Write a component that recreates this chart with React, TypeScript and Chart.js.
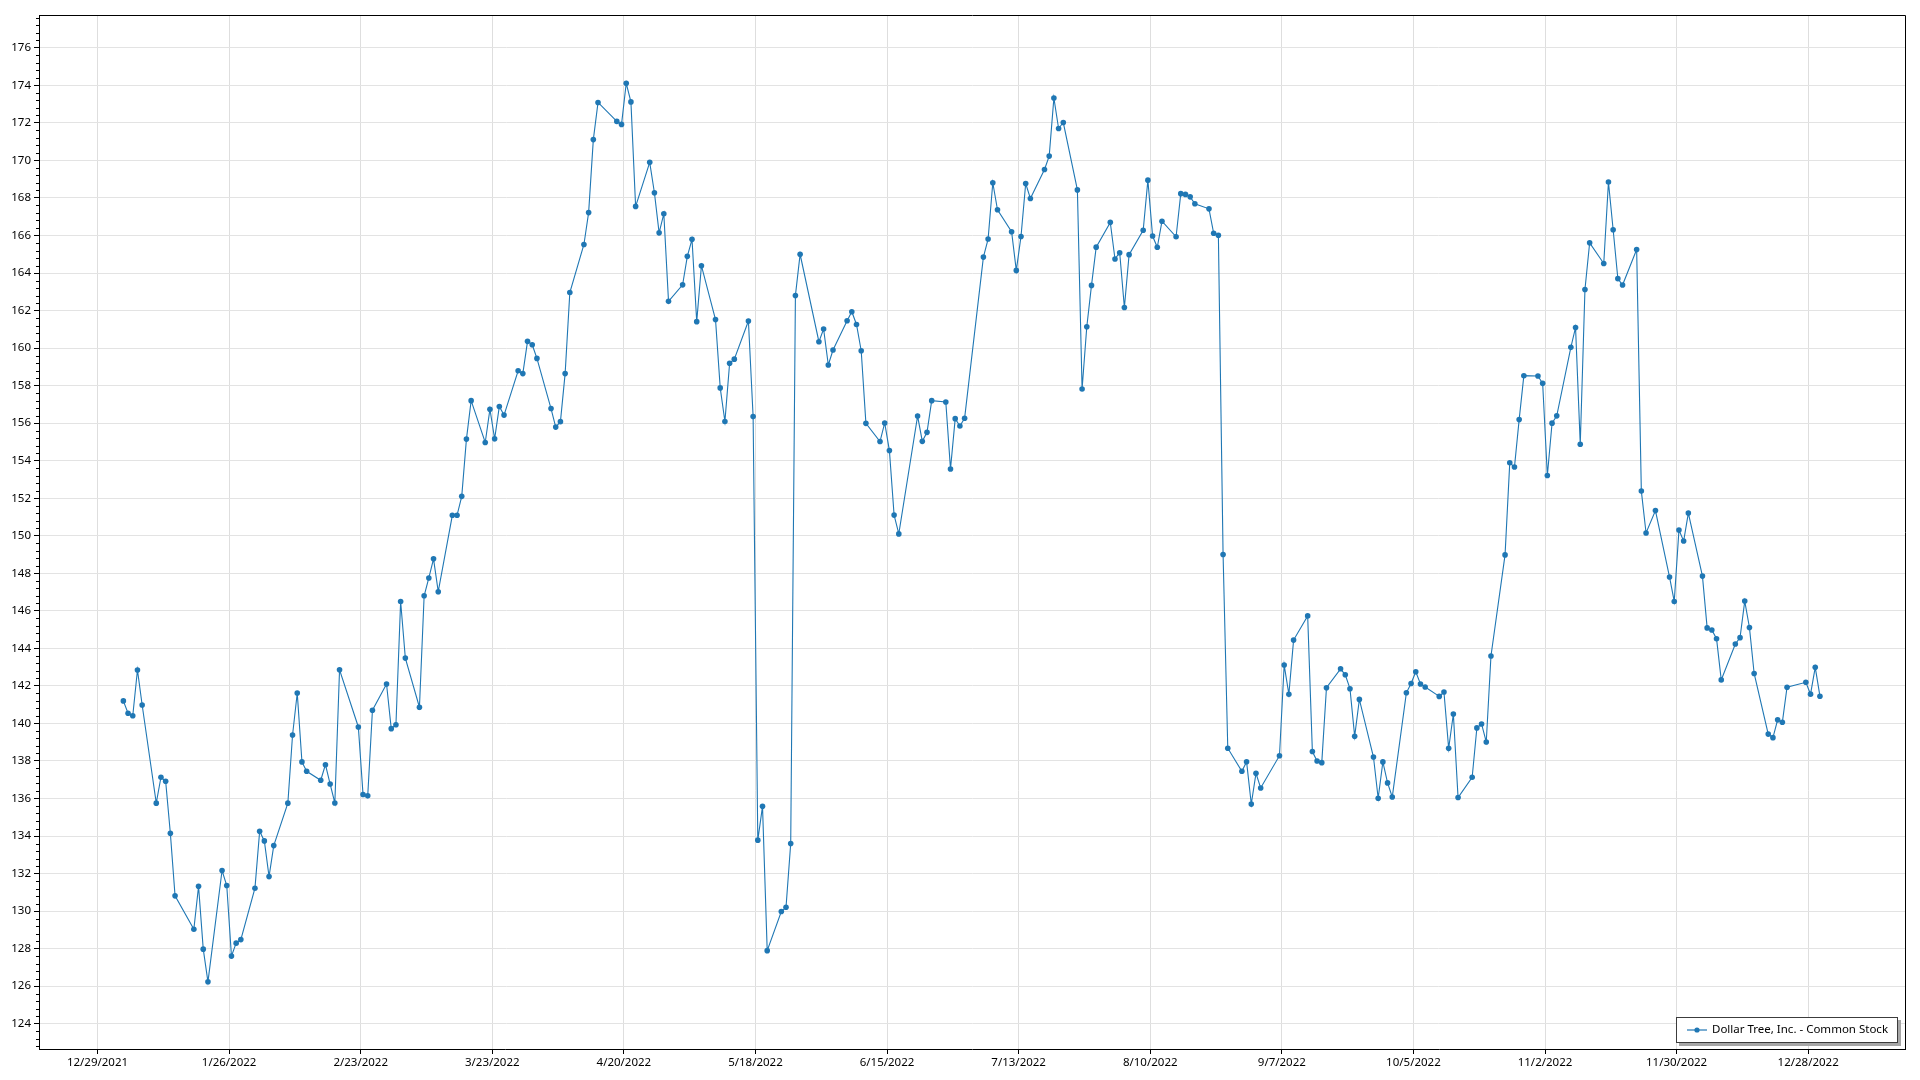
import React, { useEffect, useRef } from "react";
import { Chart, registerables } from "chart.js";

Chart.register(...registerables);

const SERIES_LABEL = "Dollar Tree, Inc. - Common Stock";

const TRADE_DATES = [
  "2022-01-03","2022-01-04","2022-01-05","2022-01-06","2022-01-07","2022-01-10","2022-01-11","2022-01-12","2022-01-13","2022-01-14",
  "2022-01-18","2022-01-19","2022-01-20","2022-01-21","2022-01-24","2022-01-25","2022-01-26","2022-01-27","2022-01-28","2022-01-31",
  "2022-02-01","2022-02-02","2022-02-03","2022-02-04","2022-02-07","2022-02-08","2022-02-09","2022-02-10","2022-02-11","2022-02-14",
  "2022-02-15","2022-02-16","2022-02-17","2022-02-18","2022-02-22","2022-02-23","2022-02-24","2022-02-25","2022-02-28",
  "2022-03-01","2022-03-02","2022-03-03","2022-03-04","2022-03-07","2022-03-08","2022-03-09","2022-03-10","2022-03-11","2022-03-14",
  "2022-03-15","2022-03-16","2022-03-17","2022-03-18","2022-03-21","2022-03-22","2022-03-23","2022-03-24","2022-03-25","2022-03-28",
  "2022-03-29","2022-03-30","2022-03-31",
  "2022-04-01","2022-04-04","2022-04-05","2022-04-06","2022-04-07","2022-04-08","2022-04-11","2022-04-12","2022-04-13","2022-04-14",
  "2022-04-18","2022-04-19","2022-04-20","2022-04-21","2022-04-22","2022-04-25","2022-04-26","2022-04-27","2022-04-28","2022-04-29",
  "2022-05-02","2022-05-03","2022-05-04","2022-05-05","2022-05-06","2022-05-09","2022-05-10","2022-05-11","2022-05-12","2022-05-13",
  "2022-05-16","2022-05-17","2022-05-18","2022-05-19","2022-05-20","2022-05-23","2022-05-24","2022-05-25","2022-05-26","2022-05-27",
  "2022-05-31",
  "2022-06-01","2022-06-02","2022-06-03","2022-06-06","2022-06-07","2022-06-08","2022-06-09","2022-06-10","2022-06-13","2022-06-14",
  "2022-06-15","2022-06-16","2022-06-17","2022-06-21","2022-06-22","2022-06-23","2022-06-24","2022-06-27","2022-06-28","2022-06-29",
  "2022-06-30",
  "2022-07-01","2022-07-05","2022-07-06","2022-07-07","2022-07-08","2022-07-11","2022-07-12","2022-07-13","2022-07-14","2022-07-15",
  "2022-07-18","2022-07-19","2022-07-20","2022-07-21","2022-07-22","2022-07-25","2022-07-26","2022-07-27","2022-07-28","2022-07-29",
  "2022-08-01","2022-08-02","2022-08-03","2022-08-04","2022-08-05","2022-08-08","2022-08-09","2022-08-10","2022-08-11","2022-08-12",
  "2022-08-15","2022-08-16","2022-08-17","2022-08-18","2022-08-19","2022-08-22","2022-08-23","2022-08-24","2022-08-25","2022-08-26",
  "2022-08-29","2022-08-30","2022-08-31",
  "2022-09-01","2022-09-02","2022-09-06","2022-09-07","2022-09-08","2022-09-09","2022-09-12","2022-09-13","2022-09-14","2022-09-15",
  "2022-09-16","2022-09-19","2022-09-20","2022-09-21","2022-09-22","2022-09-23","2022-09-26","2022-09-27","2022-09-28","2022-09-29",
  "2022-09-30",
  "2022-10-03","2022-10-04","2022-10-05","2022-10-06","2022-10-07","2022-10-10","2022-10-11","2022-10-12","2022-10-13","2022-10-14",
  "2022-10-17","2022-10-18","2022-10-19","2022-10-20","2022-10-21","2022-10-24","2022-10-25","2022-10-26","2022-10-27","2022-10-28",
  "2022-10-31",
  "2022-11-01","2022-11-02","2022-11-03","2022-11-04","2022-11-07","2022-11-08","2022-11-09","2022-11-10","2022-11-11","2022-11-14",
  "2022-11-15","2022-11-16","2022-11-17","2022-11-18","2022-11-21","2022-11-22","2022-11-23","2022-11-25","2022-11-28","2022-11-29",
  "2022-11-30",
  "2022-12-01","2022-12-02","2022-12-05","2022-12-06","2022-12-07","2022-12-08","2022-12-09","2022-12-12","2022-12-13","2022-12-14",
  "2022-12-15","2022-12-16","2022-12-19","2022-12-20","2022-12-21","2022-12-22","2022-12-23","2022-12-27","2022-12-28","2022-12-29",
  "2022-12-30",
];

const CLOSE_PRICES = [
  141.20,140.54,140.41,142.85,140.98,135.75,137.13,136.92,134.15,130.81,
  129.03,131.32,127.97,126.23,132.16,131.36,127.60,128.29,128.48,131.22,
  134.25,133.74,131.84,133.49,135.75,139.38,141.62,137.95,137.45,136.97,
  137.80,136.77,135.76,142.86,139.81,136.21,136.14,140.70,142.10,
  139.72,139.93,146.50,143.48,140.86,146.80,147.75,148.77,147.02,151.09,
  151.09,152.10,155.15,157.20,154.97,156.74,155.17,156.89,156.43,158.79,
  158.64,160.36,160.18,
  159.45,156.78,155.79,156.08,158.64,162.96,165.52,167.22,171.11,173.09,
  172.08,171.92,174.11,173.12,167.55,169.90,168.28,166.14,167.16,162.49,
  163.37,164.89,165.80,161.41,164.39,161.52,157.88,156.09,159.19,159.41,
  161.44,156.35,133.78,135.58,127.89,129.98,130.20,133.60,162.80,165.00,
  160.34,
  161.02,159.10,159.90,161.46,161.94,161.26,159.86,155.99,155.02,156.01,
  154.54,151.10,150.10,156.38,155.03,155.51,157.20,157.13,153.56,156.24,
  155.85,
  156.26,164.85,165.81,168.81,167.37,166.20,164.14,165.95,168.77,167.97,
  169.52,170.23,173.33,171.70,172.02,168.43,157.82,161.14,163.34,165.38,
  166.70,164.75,165.08,162.16,164.98,166.28,168.95,165.97,165.37,166.76,
  165.93,168.23,168.19,168.06,167.69,167.42,166.12,166.01,149.00,138.68,
  137.45,137.96,135.70,
  137.34,136.56,138.28,143.11,141.55,144.44,145.73,138.50,138.00,137.91,
  141.90,142.91,142.59,141.85,139.31,141.28,138.21,136.01,137.95,136.83,
  136.08,
  141.63,142.13,142.75,142.10,141.94,141.44,141.67,138.67,140.50,136.05,
  137.13,139.76,139.97,139.01,143.59,148.98,153.89,153.66,156.19,158.53,
  158.51,
  158.12,153.21,156.00,156.39,160.04,161.10,154.88,163.12,165.61,164.51,
  168.85,166.31,163.70,163.36,165.25,152.38,150.15,151.34,147.80,146.50,
  150.30,
  149.72,151.21,147.85,145.09,144.98,144.51,142.32,144.23,144.57,146.52,
  145.11,142.66,139.43,139.24,140.19,140.06,141.93,142.19,141.56,142.99,
  141.45,
];

const X_TICK_DATES = [
  "2021-12-29","2022-01-26","2022-02-23","2022-03-23","2022-04-20","2022-05-18","2022-06-15",
  "2022-07-13","2022-08-10","2022-09-07","2022-10-05","2022-11-02","2022-11-30","2022-12-28",
];

const Y_TICKS = [
  124,126,128,130,132,134,136,138,140,142,144,146,148,150,152,154,156,158,160,162,164,166,168,170,172,174,176,
];

const BASE_DATE = "2021-12-29";
const X_MIN_DAY = -12.45;
const X_MAX_DAY = 384.6;
const Y_MIN = 122.65;
const Y_MAX = 177.75;
const Y_MINOR_STEP = 0.4;
const CLOSE_TIME_OF_DAY = 0.5;

const FONT_FAMILY = "'Segoe UI', 'Noto Sans', 'Liberation Sans', sans-serif";
const LINE_COLOR = "#1f77b4";

const DAY_MS = 86400000;
const baseMs = Date.parse(BASE_DATE + "T00:00:00Z");
const dayOf = (iso: string) => (Date.parse(iso + "T00:00:00Z") - baseMs) / DAY_MS;
const fmtDay = (v: number) => {
  const d = new Date(baseMs + Math.round(v) * DAY_MS);
  return `${d.getUTCMonth() + 1}/${d.getUTCDate()}/${d.getUTCFullYear()}`;
};

const framePlugin = {
  id: "framePlugin",
  afterDraw(chart: any) {
    const { ctx, chartArea } = chart;
    const { left, right, top, bottom } = chartArea;
    const yScale = chart.scales.y;
    ctx.save();
    ctx.strokeStyle = "#000";
    ctx.lineWidth = 1;
    ctx.beginPath();
    ctx.moveTo(left + 0.5, bottom + 0.5);
    ctx.lineTo(left + 0.5, Math.round(top) + 0.5);
    ctx.lineTo(Math.round(right) + 0.5, Math.round(top) + 0.5);
    ctx.lineTo(Math.round(right) + 0.5, bottom + 0.5);
    ctx.stroke();
    const startK = Math.ceil((Y_MIN - 124) / Y_MINOR_STEP);
    const endK = Math.floor((Y_MAX - 124) / Y_MINOR_STEP);
    ctx.beginPath();
    for (let k = startK; k <= endK; k++) {
      if (k % 5 === 0) continue;
      const v = 124 + k * Y_MINOR_STEP;
      const py = Math.round(yScale.getPixelForValue(v)) + 0.5;
      ctx.moveTo(left - 3, py);
      ctx.lineTo(left, py);
    }
    ctx.stroke();

    ctx.font = `11.5px ${FONT_FAMILY}`;
    const tw = ctx.measureText(SERIES_LABEL).width;
    const boxW = Math.round(36 + tw + 10);
    const boxH = 26;
    const bx = Math.round(right - 7 - boxW);
    const by = Math.round(bottom - 6 - boxH);
    ctx.fillStyle = "#a6a6a6";
    ctx.fillRect(bx + 3, by + 3, boxW, boxH);
    ctx.fillStyle = "#fff";
    ctx.fillRect(bx, by, boxW, boxH);
    ctx.strokeStyle = "#3c3c3c";
    ctx.lineWidth = 1;
    ctx.strokeRect(bx + 0.5, by + 0.5, boxW - 1, boxH - 1);
    const cy = by + boxH / 2;
    ctx.strokeStyle = "rgba(31,119,180,0.6)";
    ctx.lineWidth = 2;
    ctx.beginPath();
    ctx.moveTo(bx + 11, cy);
    ctx.lineTo(bx + 31, cy);
    ctx.stroke();
    ctx.fillStyle = LINE_COLOR;
    ctx.beginPath();
    ctx.arc(bx + 21, cy, 2.6, 0, Math.PI * 2);
    ctx.fill();
    ctx.fillStyle = "#000";
    ctx.textBaseline = "middle";
    ctx.textAlign = "left";
    ctx.fillText(SERIES_LABEL, bx + 36, cy);
    ctx.restore();
  },
};

export default function App() {
  const canvasRef = useRef<HTMLCanvasElement | null>(null);

  useEffect(() => {
    document.body.style.margin = "0";
    document.body.style.background = "#fff";
    const canvas = canvasRef.current;
    if (!canvas) return;
    const points = TRADE_DATES.map((d, i) => ({ x: dayOf(d) + CLOSE_TIME_OF_DAY, y: CLOSE_PRICES[i] }));
    const tickFont = { family: FONT_FAMILY, size: 11.5 };
    const chart = new Chart(canvas, {
      type: "line",
      data: {
        datasets: [
          {
            label: SERIES_LABEL,
            data: points,
            borderColor: LINE_COLOR,
            backgroundColor: LINE_COLOR,
            borderWidth: 1.1,
            pointRadius: 2.8,
            pointBackgroundColor: LINE_COLOR,
            pointBorderWidth: 0,
            tension: 0,
            fill: false,
          },
        ],
      },
      options: {
        responsive: false,
        animation: false,
        devicePixelRatio: 1,
        layout: { padding: { top: 15, right: 15, left: 0, bottom: 0 } },
        plugins: { legend: { display: false }, tooltip: { enabled: false } },
        scales: {
          x: {
            type: "linear",
            min: X_MIN_DAY,
            max: X_MAX_DAY,
            afterBuildTicks: (s: any) => {
              s.ticks = X_TICK_DATES.map((d) => ({ value: dayOf(d) }));
            },
            afterFit: (s: any) => {
              s.height = 31;
            },
            ticks: {
              autoSkip: false,
              maxRotation: 0,
              minRotation: 0,
              color: "#000",
              font: tickFont,
              padding: 2,
              callback: (v: any) => fmtDay(Number(v)),
            },
            grid: { color: "#dedede", tickColor: "#000", tickLength: 5, lineWidth: 1 },
            border: { color: "#000", width: 1 },
          },
          y: {
            type: "linear",
            min: Y_MIN,
            max: Y_MAX,
            afterBuildTicks: (s: any) => {
              s.ticks = Y_TICKS.map((v) => ({ value: v }));
            },
            afterFit: (s: any) => {
              s.width = 39;
            },
            ticks: {
              autoSkip: false,
              color: "#000",
              font: tickFont,
              padding: 3,
              callback: (v: any) => String(v),
            },
            grid: { color: "#e3e3e3", tickColor: "#000", tickLength: 5, lineWidth: 1 },
            border: { color: "#000", width: 1 },
          },
        },
      },
      plugins: [framePlugin],
    } as any);
    return () => chart.destroy();
  }, []);

  return (
    <div style={{ position: "absolute", left: 0, top: 0, width: 1920, height: 1080, background: "#fff" }}>
      <canvas ref={canvasRef} width={1920} height={1080} style={{ display: "block", width: 1920, height: 1080 }} />
    </div>
  );
}
